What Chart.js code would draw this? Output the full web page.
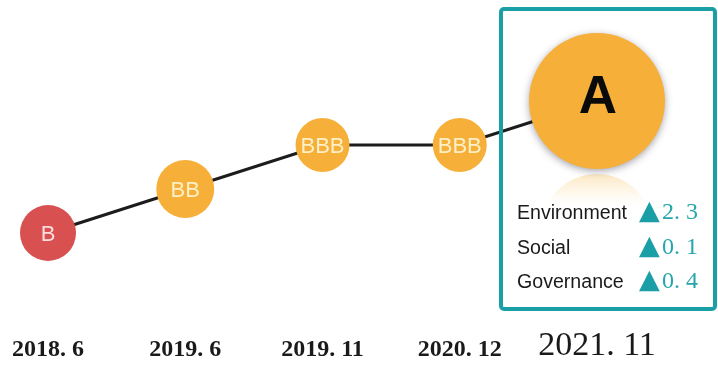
<!DOCTYPE html>
<html>
<head>
<meta charset="utf-8">
<script src="https://cdn.jsdelivr.net/npm/chart.js@4.4.0/dist/chart.umd.min.js"></script>
<style>
  html, body { margin: 0; padding: 0; background: #ffffff; }
  #wrap { width: 718px; height: 366px; position: relative; }
</style>
</head>
<body>
<div id="wrap"><canvas id="chart-canvas"></canvas></div>
<script>
// ----- data -----
var periods = ["2018. 6", "2019. 6", "2019. 11", "2020. 12", "2021. 11"];
var ratingScale = ["B", "BB", "BBB", "A"];
var ratings = ["B", "BB", "BBB", "BBB", "A"];
var esgNames = ["Environment", "Social", "Governance"];
var esgDeltas = [2.3, 0.1, 0.4];

// ----- styles -----
var TEAL = "#1a9fa7";
var ORANGE = "#f6b03a";
var RED = "#d8504f";
var lastIdx = periods.length - 1;
var pointSizes = [28, 29, 27, 27, 68];

// y value = position of the rating on the scale
var ratingValues = ratings.map(function(r) { return ratingScale.indexOf(r) + 1; });

/**
 * Shadow and faint reflection behind the latest (big) point.
 */
var haloPlugin = {
  id: "halo",
  beforeDatasetsDraw: function(chart) {
    var ctx = chart.ctx;
    var pt = chart.getDatasetMeta(0).data[lastIdx];
    var r = pt.options.radius;
    ctx.save();
    var top = pt.y + r + 5;
    var g = ctx.createLinearGradient(0, top, 0, top + 36);
    g.addColorStop(0, "rgba(250, 208, 135, 0.5)");
    g.addColorStop(0.5, "rgba(252, 228, 185, 0.3)");
    g.addColorStop(1, "rgba(255, 255, 255, 0)");
    ctx.beginPath();
    ctx.arc(pt.x, top + r * 0.82, r * 0.82, 0, Math.PI * 2);
    ctx.fillStyle = g;
    ctx.fill();

    ctx.shadowColor = "rgba(70, 70, 90, 0.6)";
    ctx.shadowBlur = 9;
    ctx.shadowOffsetY = 2;
    ctx.beginPath();
    ctx.arc(pt.x, pt.y, r - 1, 0, Math.PI * 2);
    ctx.fillStyle = ORANGE;
    ctx.fill();
    ctx.restore();
  }
};

/**
 * Rating text inside each point.
 */
var ratingLabelPlugin = {
  id: "ratingLabels",
  afterDatasetsDraw: function(chart) {
    var ctx = chart.ctx;
    var pts = chart.getDatasetMeta(0).data;
    ctx.save();
    ctx.textAlign = "center";
    ctx.textBaseline = "alphabetic";
    for (var i = 0; i < pts.length; i++) {
      var p = pts[i];
      if (i === lastIdx) {
        ctx.font = "bold 53px 'Liberation Sans', Arial, sans-serif";
        ctx.fillStyle = "#0a0a0a";
        ctx.fillText(ratings[i], p.x + 1, p.y + 12);
      } else {
        ctx.font = "22px 'Liberation Sans', Arial, sans-serif";
        ctx.fillStyle = i === 0 ? "#f9dcdc" : "#fdf0c6";
        ctx.fillText(ratings[i], p.x, p.y + 8);
      }
    }
    ctx.restore();
  }
};

/**
 * Teal frame around the latest rating with the E / S / G changes.
 */
var esgBoxPlugin = {
  id: "esgBox",
  afterDraw: function(chart) {
    var ctx = chart.ctx;
    var pt = chart.getDatasetMeta(0).data[lastIdx];
    var left = pt.x - 96;
    var right = chart.width - 3;
    var top = 9;
    var bottom = 309;
    ctx.save();
    ctx.strokeStyle = TEAL;
    ctx.lineWidth = 4;
    ctx.beginPath();
    ctx.roundRect(left, top, right - left, bottom - top, 3);
    ctx.stroke();

    for (var i = 0; i < esgNames.length; i++) {
      var y = top + 210 + i * 34.5;
      ctx.textAlign = "left";
      ctx.textBaseline = "alphabetic";
      ctx.fillStyle = "#1a1a1a";
      ctx.font = "19.6px 'Liberation Sans', Arial, sans-serif";
      ctx.fillText(esgNames[i], left + 16, y);

      ctx.fillStyle = TEAL;
      ctx.font = "27px 'DejaVu Sans', sans-serif";
      ctx.fillText("\u25B2", right - 76, y);

      ctx.fillStyle = "#27a5ac";
      ctx.font = "24px 'Liberation Serif', serif";
      ctx.fillText(esgDeltas[i].toFixed(1).replace(".", ". "), right - 53, y);
    }
    ctx.restore();
  }
};

var ctx = document.getElementById("chart-canvas").getContext("2d");
var chartInstance = new Chart(ctx, {
  type: "line",
  data: {
    labels: periods,
    datasets: [{
      data: ratingValues,
      borderColor: "#1c1c1c",
      borderWidth: 3,
      tension: 0,
      pointRadius: pointSizes,
      pointHoverRadius: pointSizes,
      pointBackgroundColor: [RED, ORANGE, ORANGE, ORANGE, ORANGE],
      pointBorderWidth: 0,
      clip: false,
    }],
  },
  options: {
    responsive: true,
    maintainAspectRatio: false,
    animation: false,
    layout: { autoPadding: false, padding: { left: 48, right: 121, top: 13, bottom: 0 } },
    plugins: {
      legend: { display: false },
      tooltip: { enabled: false },
    },
    scales: {
      x: {
        type: "category",
        offset: false,
        grid: { display: false, drawTicks: false },
        border: { display: false },
        afterFit: function(scale) {
          // fixed axis height, no extra side padding for the outer labels
          scale.height = 89;
          scale.paddingLeft = 0;
          scale.paddingRight = 0;
        },
        ticks: {
          padding: 49,
          autoSkip: false,
          maxRotation: 0,
          color: "#1a1a1a",
          font: function(c) {
            return c.index === lastIdx
              ? { family: "'Liberation Serif', serif", size: 34, weight: "normal", lineHeight: "40.8px" }
              : { family: "'Liberation Serif', serif", size: 24, weight: "bold", lineHeight: "47.6px" };
          },
        },
      },
      y: { display: false, min: 0, max: 6 },
    },
  },
  plugins: [haloPlugin, ratingLabelPlugin, esgBoxPlugin],
});
</script>
</body>
</html>
